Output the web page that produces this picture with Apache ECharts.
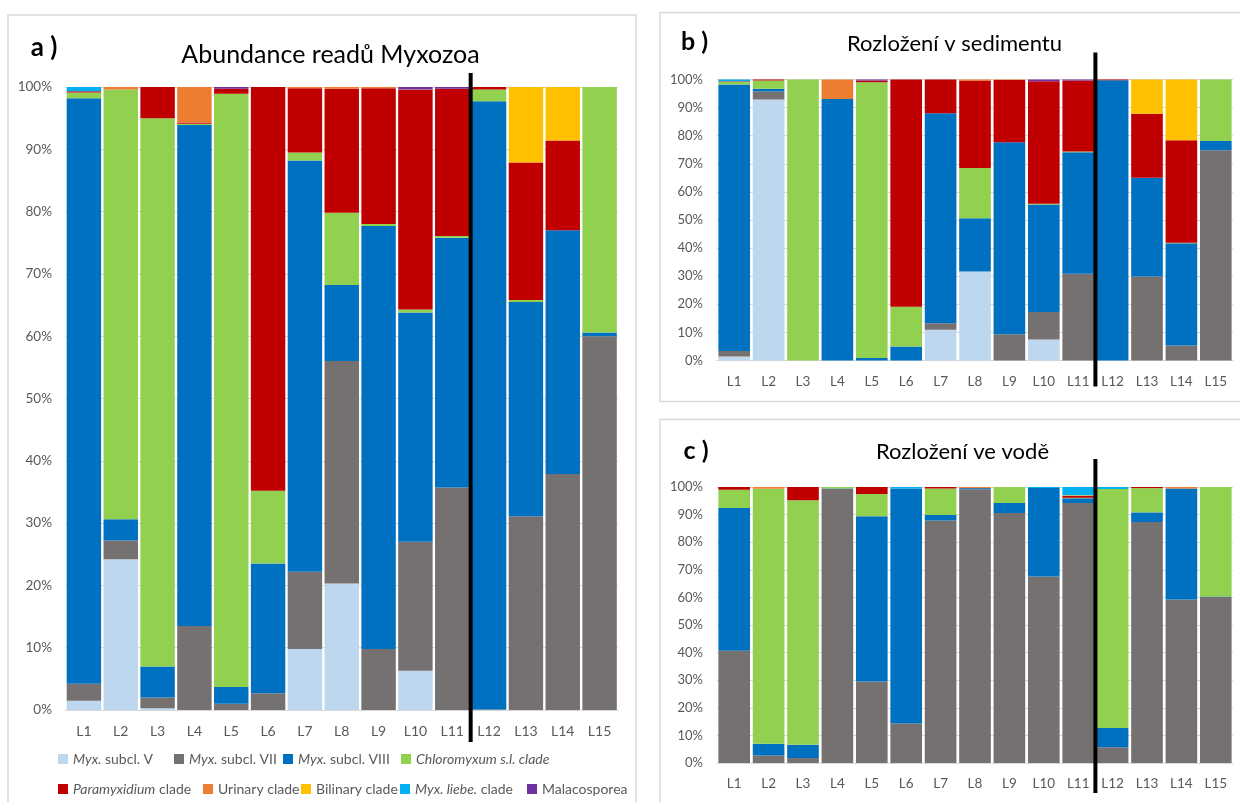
<!DOCTYPE html>
<html>
<head>
<meta charset="utf-8">
<script src="https://cdn.jsdelivr.net/npm/echarts@6/dist/echarts.min.js"></script>
<style>
  html, body { margin: 0; padding: 0; background: #fff; }
  #chart { width: 1240px; height: 802px; }
</style>
</head>
<body>
<div id="chart"></div>
<script>
// Sample sites
const categories = ['L1', 'L2', 'L3', 'L4', 'L5', 'L6', 'L7', 'L8', 'L9', 'L10', 'L11', 'L12', 'L13', 'L14', 'L15']

const seriesNames = [
  'Myx. subcl. V', 'Myx. subcl. VII', 'Myx. subcl. VIII', 'Chloromyxum s.l. clade',
  'Paramyxidium clade', 'Urinary clade', 'Bilinary clade', 'Myx. liebe. clade', 'Malacosporea',
]
const colors = ['#BDD7EE', '#767171', '#0070C0', '#92D050', '#C00000', '#ED7D31', '#FFC000', '#00B0F0', '#7030A0']

// a) Abundance readu Myxozoa (% of reads)
const a_subclV    = [1.5, 24.2, 0.3, 0, 0, 0, 9.8, 20.3, 0, 6.3, 0, 0, 0, 0, 0]
const a_subclVII  = [2.7, 3.0, 1.7, 13.5, 1.0, 2.7, 12.4, 35.7, 9.8, 20.7, 35.7, 0.1, 31.1, 37.9, 60.0]
const a_subclVIII = [94.0, 3.4, 5.0, 80.4, 2.7, 20.8, 66.0, 12.2, 67.9, 36.8, 40.1, 97.6, 34.4, 39.1, 0.6]
const a_chloro    = [0.9, 69.0, 88.0, 0.2, 95.2, 11.7, 1.3, 11.6, 0.3, 0.5, 0.3, 1.9, 0.3, 0, 39.4]
const a_paramyx   = [0.2, 0, 5.0, 0.2, 0.8, 64.8, 10.3, 19.9, 21.8, 35.2, 23.6, 0.4, 22.1, 14.4, 0]
const a_urinary   = [0, 0.4, 0, 5.7, 0, 0, 0.2, 0.3, 0.2, 0.1, 0, 0, 0, 0, 0]
const a_bilinary  = [0, 0, 0, 0, 0, 0, 0, 0, 0, 0, 0, 0, 12.1, 8.6, 0]
const a_liebe     = [0.7, 0, 0, 0, 0, 0, 0, 0, 0, 0, 0, 0, 0, 0, 0]
const a_malaco    = [0, 0, 0, 0, 0.3, 0, 0, 0, 0, 0.4, 0.3, 0, 0, 0, 0]

// b) Rozlozeni v sedimentu
const b_subclV    = [1.4, 92.9, 0, 0, 0, 0, 10.9, 31.7, 0, 7.5, 0, 0, 0, 0, 0]
const b_subclVII  = [2.0, 2.8, 0, 0, 0, 0, 2.4, 0, 9.3, 9.8, 30.9, 0, 29.9, 5.3, 74.8]
const b_subclVIII = [94.8, 1.0, 0, 93.1, 0.9, 5.0, 74.7, 18.9, 68.4, 38.2, 43.2, 99.7, 35.1, 36.4, 3.3]
const b_chloro    = [1.0, 2.9, 100, 0, 98.1, 14.1, 0, 17.9, 0, 0.3, 0.3, 0, 0, 0.2, 21.9]
const b_paramyx   = [0.2, 0.4, 0, 0, 0.6, 80.9, 12.0, 31.1, 22.1, 43.6, 25.2, 0.3, 22.8, 36.5, 0]
const b_urinary   = [0, 0, 0, 6.9, 0, 0, 0, 0.4, 0.2, 0, 0, 0, 0, 0, 0]
const b_bilinary  = [0, 0, 0, 0, 0, 0, 0, 0, 0, 0, 0, 0, 12.2, 21.6, 0]
const b_liebe     = [0.6, 0, 0, 0, 0, 0, 0, 0, 0, 0, 0, 0, 0, 0, 0]
const b_malaco    = [0, 0, 0, 0, 0.4, 0, 0, 0, 0, 0.6, 0.4, 0, 0, 0, 0]

// c) Rozlozeni ve vode
const c_subclV    = [0, 0, 0, 0, 0, 0, 0, 0, 0, 0, 0, 0, 0, 0, 0]
const c_subclVII  = [40.7, 2.7, 1.8, 99.3, 29.5, 14.3, 87.9, 99.2, 90.6, 67.6, 94.2, 5.7, 87.3, 59.2, 60.1]
const c_subclVIII = [51.7, 4.3, 4.8, 0.2, 59.9, 85.2, 2.0, 0.4, 3.6, 32.0, 1.7, 7.0, 3.5, 40.3, 0.2]
const c_chloro    = [6.6, 92.4, 88.6, 0.5, 8.1, 0, 9.6, 0, 5.8, 0, 0.2, 86.6, 8.8, 0, 39.7]
const c_paramyx   = [1.0, 0, 4.8, 0, 2.5, 0, 0.5, 0, 0, 0, 0.7, 0, 0.4, 0, 0]
const c_urinary   = [0, 0.6, 0, 0, 0, 0, 0, 0.4, 0, 0, 0, 0, 0, 0.5, 0]
const c_bilinary  = [0, 0, 0, 0, 0, 0, 0, 0, 0, 0, 0.2, 0, 0, 0, 0]
const c_liebe     = [0, 0, 0, 0, 0, 0.5, 0, 0, 0, 0.4, 3.0, 0.7, 0, 0, 0]
const c_malaco    = [0, 0, 0, 0, 0, 0, 0, 0, 0, 0, 0, 0, 0, 0, 0]

const yTicks = { min: 0, max: 100, interval: 10 }

const panels = [
  [a_subclV, a_subclVII, a_subclVIII, a_chloro, a_paramyx, a_urinary, a_bilinary, a_liebe, a_malaco],
  [b_subclV, b_subclVII, b_subclVIII, b_chloro, b_paramyx, b_urinary, b_bilinary, b_liebe, b_malaco],
  [c_subclV, c_subclVII, c_subclVIII, c_chloro, c_paramyx, c_urinary, c_bilinary, c_liebe, c_malaco],
]

const FONT = 'Lato, "Liberation Sans", sans-serif'
const LABEL = '#595959'
const FRAME = '#D9D9D9'

// legend entries with italic parts (rich text)
const legendRich = {
  'Myx. subcl. V': '{i|Myx.} subcl. V',
  'Myx. subcl. VII': '{i|Myx.} subcl. VII',
  'Myx. subcl. VIII': '{i|Myx.} subcl. VIII',
  'Chloromyxum s.l. clade': '{i|Chloromyxum s.l. clade}',
  'Paramyxidium clade': '{i|Paramyxidium} clade',
  'Urinary clade': 'Urinary clade',
  'Bilinary clade': 'Bilinary clade',
  'Myx. liebe. clade': '{i|Myx. liebe.} clade',
  'Malacosporea': 'Malacosporea',
}
// where each legend item sits (square left edge, row centre)
const legendPlace = [
  [58, 760], [174, 760], [283, 760], [401, 760],
  [58, 790], [203, 790], [301, 790], [400, 790], [527, 790],
]

const chart = echarts.init(document.getElementById('chart'), null, { renderer: 'canvas' })

const grids = [
  { left: 65.5, right: 622, top: 87, bottom: 92 },
  { left: 717, right: 7, top: 79.5, bottom: 441.5 },
  { left: 717, right: 7, top: 487, bottom: 39 },
]
const xLabelSize = [14, 13.5, 13.5]
const yLabelSize = [13.5, 13, 13]
const gaps = ['6.5%', '8%', '8%']

const series = []
panels.forEach((arrs, p) => {
  arrs.forEach((vals, k) => {
    series.push({
      name: seriesNames[k],
      type: 'bar',
      stack: 'panel' + p,
      xAxisIndex: p,
      yAxisIndex: p,
      data: vals,
      barCategoryGap: gaps[p],
      itemStyle: { color: colors[k] },
      emphasis: { disabled: true },
    })
  })
})

const frames = [
  { type: 'rect', shape: { x: 8, y: 15, width: 628, height: 800 } },
  { type: 'rect', shape: { x: 660, y: 12.5, width: 590, height: 389 } },
  { type: 'rect', shape: { x: 660, y: 419.5, width: 590, height: 400 } },
].map((r, i) => ({ ...r, id: 'frame' + i, z: -10, style: { fill: 'none', stroke: FRAME, lineWidth: 1.5 } }))

const texts = [
  { text: 'a )', x: 44, y: 48, size: 26, weight: 'bold' },
  { text: 'Abundance readů Myxozoa', x: 330.5, y: 55, size: 25, weight: 'normal' },
  { text: 'b )', x: 694.5, y: 42, size: 25, weight: 'bold' },
  { text: 'Rozložení v sedimentu', x: 954.5, y: 44, size: 22, weight: 'normal' },
  { text: 'c )', x: 696, y: 450.5, size: 25, weight: 'bold' },
  { text: 'Rozložení ve vodě', x: 962.5, y: 451.5, size: 22, weight: 'normal' },
].map((t, i) => ({
  type: 'text', id: 'txt' + i, x: t.x, y: t.y,
  style: {
    text: t.text, fill: '#000', font: `${t.weight} ${t.size}px ${FONT}`,
    textAlign: 'center', textVerticalAlign: 'middle',
  },
}))

chart.setOption({
  animation: false,
  textStyle: { fontFamily: FONT },
  grid: grids,
  xAxis: grids.map((g, i) => ({
    type: 'category',
    gridIndex: i,
    data: categories,
    axisTick: { show: false },
    axisLine: { lineStyle: { color: FRAME, width: 1 } },
    axisLabel: { color: LABEL, fontSize: xLabelSize[i], fontFamily: FONT, margin: i === 0 ? 14.5 : 14, interval: 0 },
  })),
  yAxis: grids.map((g, i) => ({
    type: 'value',
    gridIndex: i,
    ...yTicks,
    axisLine: { show: false },
    axisTick: { show: false },
    axisLabel: { color: LABEL, fontSize: yLabelSize[i], fontFamily: FONT, margin: i === 0 ? 13.5 : 14, formatter: '{value}%' },
    splitLine: { lineStyle: { color: FRAME, width: 1 } },
  })),
  legend: seriesNames.map((name, k) => ({
    data: [name],
    left: legendPlace[k][0],
    top: legendPlace[k][1] - 8,
    padding: 0,
    icon: 'rect',
    itemWidth: 10,
    itemHeight: 10,
    selectedMode: false,
    formatter: (n) => legendRich[n],
    textStyle: {
      color: LABEL, fontSize: 14, fontFamily: FONT,
      rich: { i: { color: LABEL, fontSize: 14, fontFamily: FONT, fontStyle: 'italic' } },
    },
  })),
  series,
  graphic: [...frames, ...texts],
})

// black separators between L11 and L12, placed from the axes
const extend = [[14, 32], [27, 26], [28, 30]]
const separators = grids.map((g, i) => {
  const x11 = chart.convertToPixel({ xAxisIndex: i }, 'L11')
  const x12 = chart.convertToPixel({ xAxisIndex: i }, 'L12')
  const yTop = chart.convertToPixel({ yAxisIndex: i }, yTicks.max)
  const yBot = chart.convertToPixel({ yAxisIndex: i }, yTicks.min)
  const x = (x11 + x12) / 2
  return {
    type: 'line', id: 'sep' + i, z: 100,
    shape: { x1: x, y1: yTop - extend[i][0], x2: x, y2: yBot + extend[i][1] },
    style: { stroke: '#000', lineWidth: 4 },
  }
})
chart.setOption({ graphic: [...frames, ...texts, ...separators] })

window.addEventListener('resize', () => chart.resize())
</script>
</body>
</html>
